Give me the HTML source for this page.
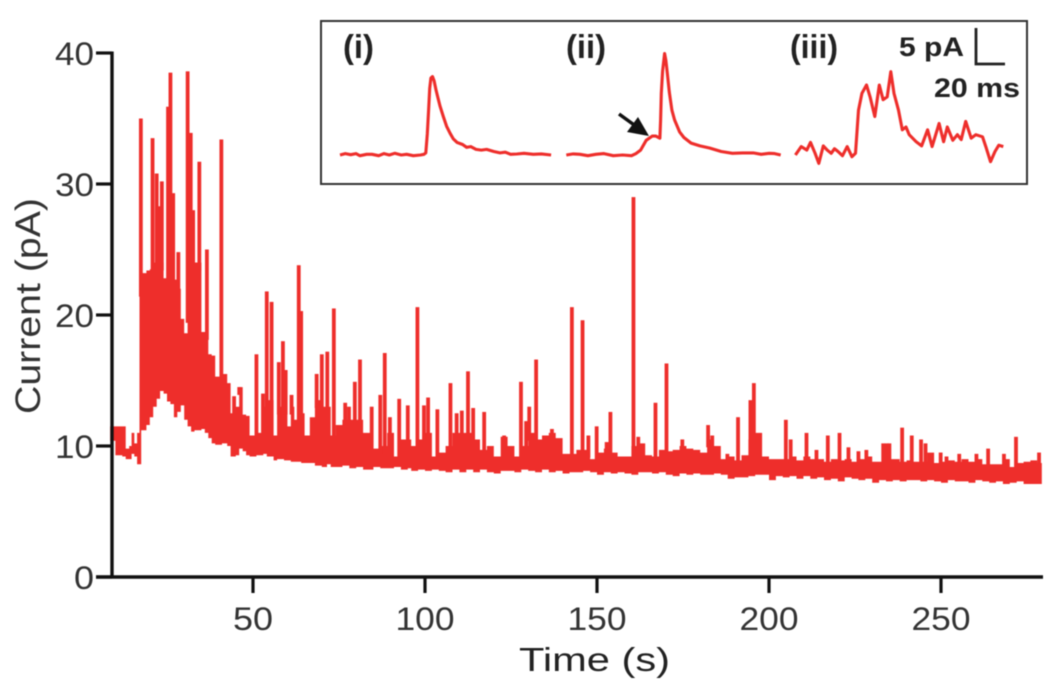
<!DOCTYPE html>
<html>
<head>
<meta charset="utf-8">
<title>Current vs Time</title>
<style>
html,body{margin:0;padding:0;background:#fff;width:1050px;height:695px;overflow:hidden}
svg{display:block;filter:blur(.55px)}
text{font-family:"Liberation Sans",sans-serif}
</style>
</head>
<body>
<svg id="chart" width="1050" height="695" viewBox="0 0 1050 695" xmlns="http://www.w3.org/2000/svg">
  <rect x="0" y="0" width="1050" height="695" fill="#fff"/>
  <g id="trace"></g>
  <g id="axes"></g>
  <text x="519" y="671" font-size="33" fill="#222" textLength="151" lengthAdjust="spacingAndGlyphs">Time (s)</text>
  <text transform="translate(40,414) rotate(-90)" font-size="35" fill="#333" textLength="216" lengthAdjust="spacingAndGlyphs">Current (pA)</text>
  <rect x="321" y="21" width="706" height="163" fill="#fff" stroke="#333" stroke-width="2"/>
  <g id="inset"></g>
  <text x="343" y="58" font-size="33" font-weight="bold" fill="#222" textLength="31" lengthAdjust="spacingAndGlyphs">(i)</text>
  <text x="566" y="58" font-size="33" font-weight="bold" fill="#222" textLength="40" lengthAdjust="spacingAndGlyphs">(ii)</text>
  <text x="790" y="58" font-size="33" font-weight="bold" fill="#222" textLength="48" lengthAdjust="spacingAndGlyphs">(iii)</text>
  <text x="899" y="56" font-size="27" font-weight="bold" fill="#222" textLength="65" lengthAdjust="spacingAndGlyphs">5 pA</text>
  <text x="934" y="97" font-size="27" font-weight="bold" fill="#222" textLength="86" lengthAdjust="spacingAndGlyphs">20 ms</text>
  <path d="M976 28V64H1005" fill="none" stroke="#222" stroke-width="2.8"/>
  <g>
    <path d="M619 114L637 127" stroke="#111" stroke-width="3.5" fill="none"/>
    <path d="M649 136L627 132L638 117Z" fill="#111"/>
  </g>
</svg>
<script>
var xTickValues = [50, 100, 150, 200, 250];
var yTickValues = [0, 10, 20, 30, 40];

var bodyTimes = [8.5,10,12,13,14,14.7,15.5,16.3,17,17.5,19,20,21,22,23,24,25,26,27,28,29,30,31,32,33,34,35,36,37,38,39,41,42.5,43.5,45,46,47,48,49,51,53,54,56,57,59,60,61,62,64,65,66.5,68,70,71.5,72.6,74,76,78,80,82,84,85,87,89,91,93,95,96,98,100,102,104,106,108,110,112,114,116,118,120,122,124,126,128,130,132,134,136,138,140,142,144,146,148,150,152,154,156,158,160,162,164,166,168,170,172,174,176,178,180,182,184,186,188,190,192,194,196,198,200,202,204,206,208,210,212,214,216,218,220,222,224,226,228,230,232,234,236,238,240,242,244,246,248,250,252,254,256,258,260,262,264,266,268,270,272,274,276,278,279.3];
var bodyTop = [11.5,11.5,11.5,9.8,10,11,10.2,11,22,23.2,23.4,23.5,24,24.5,24,22.8,22.7,22.7,22.7,22,19.7,18.6,20,24,24,24,18.7,18.7,17,16.9,15.3,15.5,14.8,12.5,13,14.5,12.4,12.3,10.8,11,13,13.5,10.8,13,13,11.5,13,12,12.5,10.8,12.2,13.5,13,13,10.8,11.6,12,12,12,11,10,9.8,10,11,9.2,10.5,10.5,10,10.5,11,9.2,9.5,10,11,11,11,10.5,9.7,10,9.2,10.7,10,9.2,10,11,10.5,10.8,11,10.6,9.4,9.4,9.7,9.7,9,9.5,9.8,9.5,9.2,9.2,10,10.2,9.3,9.2,9.7,9.6,9.7,10,9.8,9.7,9.5,10.5,10,9,9.2,8.9,9.3,10.5,11,9.2,9,9,9,9.2,8.9,9.2,9,9,8.8,9,8.9,9,8.8,9,9.2,8.8,8.8,9,9,8.8,8.9,8.8,8.8,9.5,8.7,8.8,8.9,8.8,9,8.8,9,8.6,8.6,8.6,9,8.4,8.7,8.8,8.9,8.7,8.7];
var bodyLow = [10.4,9.3,9.2,9,9,9.4,9.2,8.6,8.6,11.2,11.6,12.2,13,13.6,14.2,14,13.4,13.2,12.2,12.6,13.1,12,11.5,11.1,11.2,11.2,11.3,11,10.6,10.2,10.1,10.2,10,9.2,9.3,9.8,9.6,9.3,9.2,9.3,9.4,9.2,8.9,9,8.9,8.9,8.8,8.8,8.7,8.7,8.7,8.5,8.4,8.6,8.4,8.4,8.5,8.3,8.4,8.2,8.2,8.4,8.3,8.3,8.4,8.2,8.3,8.1,8.2,8.1,8.2,8.1,8,8.2,8,8.2,8,8.2,8,7.9,8.1,8.1,8,8.2,8.1,8,8.2,8,8.1,7.9,8,8,8.1,8,7.8,8,7.9,8,7.9,7.8,8,8,7.9,8,7.8,7.7,7.9,7.8,7.9,7.8,7.8,7.9,7.8,7.5,7.6,7.6,7.7,7.8,7.8,7.4,7.7,7.6,7.7,7.5,7.7,7.5,7.6,7.4,7.5,7.3,7.6,7.5,7.4,7.5,7.2,7.4,7.3,7.4,7.3,7.4,7.4,7.3,7.4,7.3,7.2,7.4,7.3,7.3,7.2,7.4,7.3,7.2,7.3,7.1,7.2,7.3,7.1,7.1,7.1,7.1];

var spikeTimes = [17.4,20.8,22,22.8,23.5,25.3,26,26.8,28.3,31,31.9,32.6,33.4,34.4,36.6,40.8,44.5,46,51,52.9,54,55.4,57.5,58.7,59.5,61.2,63.3,64,68.5,70,71.6,73.5,76.8,77.9,79.6,81.1,84.5,87,88.3,89.8,92.5,95,97.8,99.7,100.9,103.6,107.4,109.2,110.7,112.5,114,117.2,123,127.9,129.4,130.3,132.3,134.9,136.9,142.7,145.8,147.5,149.9,152.8,153.9,160.6,162,167,170.2,174.8,182.3,183.5,187.9,191,194.6,195.6,196.9,204.9,206.3,210.9,213.8,217.1,220.5,223.1,226,228.3,233.2,234.2,235,238.7,241.5,244.2,245.5,249.9,251.6,255.3,260.3,263.7,268.3,271.8,278.5];
var spikeValues = [35,33.5,30.8,28.3,30.2,35.9,38.5,29.3,24.8,38.6,33.9,28,24,31.7,25,33.4,13.8,14.5,17,14,21.8,21,16.4,18,15.8,13.9,23.8,20.3,15.5,17,17.2,20.5,13.3,13,14.9,16.6,13,13.9,17.1,12.2,13.6,13.1,20.6,13.1,13.7,12.8,14.8,12.5,12.7,15.7,12.9,12.6,10.8,14.9,11.9,13,16.6,10.8,11.3,20.6,19.6,10.8,11.5,10.3,12.6,29,10.7,13.3,16.3,10.5,11.6,10.8,9.4,12.2,13.5,14.8,10.8,12,10.5,11,9.7,10.8,11,9.9,9.6,9.7,10.2,10.2,10.2,11.4,10.8,10.5,10.2,9.5,9.2,9.4,9.4,9.8,9.4,10.7,9.5];

var insetTimeI = [0,4,8,12,15,20,24,29,33,37,41,46,50,55,60.3,63,64.4,65.5,66.5,67.3,68.2,69.4,70.6,72,73.3,75,77.5,80,82.6,85,87.8,92,95,98.1,102,106,110,115.4,120,124,128,132.6,138,145,151,158.4];
var insetCurrentI = [0,.2,.05,.2,-.1,.1,.1,-.1,.2,0,.25,0,.1,-.1,0,.1,.3,3,6.4,9.5,11,11.2,10.6,9.3,8.3,7,5.5,4.1,3.1,2.3,1.8,1.5,1.1,1.2,.8,.7,.8,.5,.3,.4,.1,.14,.25,.1,.15,0];
var insetTimeII = [169.8,175,180,186,192,198,205,212,218.7,222,225.5,229.7,234.2,237,240,240.5,241,242,243.5,244.5,245.5,247,249,251,254.8,258,263.4,270,277.2,286,294.4,302,310,316,322,326,330.6];
var insetCurrentII = [0,.15,.1,-.1,.1,.2,-.1,0,-.1,.2,.7,2.1,2.7,2.7,2.4,5,8.8,12,14.5,13.5,11.7,9,6.4,5,3.3,2.5,1.7,1.3,1,.5,.24,.3,.3,.1,.25,.2,0];
var insetTimeIII = [341.6,346,350.2,353,356.4,359.2,362.6,365.5,368.5,371,373.6,377,380.5,384,386.7,389,391.5,395,397.7,401.2,404.6,407.4,410.5,413.2,415.6,419,421.8,424.6,427,432.2,436.3,440.8,444.2,449.4,452.8,455.6,459.7,463.2,466,469.4,473.5,477,482,484.5,488,491.4,494.2,497.6];
var insetCurrentIII = [0,1.2,.7,1.8,.24,-1.2,1.3,.7,.24,.9,.5,-.1,1.2,-.24,.24,6.4,8.8,10,8.3,5.5,10,7.9,8.3,11.9,8.8,6.4,3.6,4,2.9,1.9,1.3,3.6,1.2,4.5,1.9,4,2.1,2.9,2.2,4.8,2.4,2.9,2.6,1.2,-.95,.5,1.4,1.2];

var NS = 'http://www.w3.org/2000/svg';
var RED = '#ee2e2b';
function xScale(t) { return 253 + (t - 50) * 3.44; }
function yScale(v) { return 577 - v * 13.1; }
function insetX(ms) { return 340 + ms * 1.333; }
function insetY(pA) { return 155 - pA * 7; }
function bodyTopAt(t) {
  var found = bodyTop[0];
  for (var k = 0; k < bodyTimes.length; k++) {
    if (bodyTimes[k] <= t) found = bodyTop[k];
  }
  return found;
}

function make(tag, parent, attrs) {
  var el = document.createElementNS(NS, tag);
  for (var k in attrs) el.setAttribute(k, attrs[k]);
  parent.appendChild(el);
  return el;
}

var traceGroup = document.getElementById('trace');
var axesGroup = document.getElementById('axes');
var insetGroup = document.getElementById('inset');

var upperPath = '', lowerPath = '';
for (var i = 0; i < bodyTimes.length; i++) {
  var x0 = xScale(bodyTimes[i]).toFixed(1);
  var x1 = xScale(i + 1 < bodyTimes.length ? bodyTimes[i + 1] : bodyTimes[i]).toFixed(1);
  upperPath += (i ? 'L' : 'M') + x0 + ' ' + yScale(bodyTop[i]).toFixed(1) + 'L' + x1 + ' ' + yScale(bodyTop[i]).toFixed(1);
}
for (var j = bodyTimes.length - 1; j >= 0; j--) {
  var xa = xScale(j + 1 < bodyTimes.length ? bodyTimes[j + 1] : bodyTimes[j]).toFixed(1);
  var xb = xScale(bodyTimes[j]).toFixed(1);
  lowerPath += 'L' + xa + ' ' + yScale(bodyLow[j]).toFixed(1) + 'L' + xb + ' ' + yScale(bodyLow[j]).toFixed(1);
}
var bodyEl = make('path', traceGroup, { d: upperPath + lowerPath + 'Z', fill: RED });



spikeTimes.forEach(function (t, idx) {
  var base = yScale(Math.min(bodyTopAt(t), spikeValues[idx]) - 0.6);
  var spike = make('rect', traceGroup, {
    x: xScale(t) - 1.9,
    y: yScale(spikeValues[idx]),
    width: 3.8,
    height: base - yScale(spikeValues[idx]),
    fill: RED
  });
  
  
});

var yAxisLine = make('line', axesGroup, { x1: 112, x2: 112, y1: yScale(40) - 1.5, y2: yScale(0) + 1.5, stroke: '#111', 'stroke-width': 3.4 });


var xAxisLine = make('line', axesGroup, { x1: 96, x2: 1043, y1: yScale(0), y2: yScale(0), stroke: '#111', 'stroke-width': 3.4 });



yTickValues.forEach(function (v) {
  var tick = make('line', axesGroup, { x1: 96, x2: 112, y1: yScale(v), y2: yScale(v), stroke: '#111', 'stroke-width': 3.2 });
  
  
  var width = v === 0 ? 20 : 39;
  var label = make('text', axesGroup, { x: 94 - width, y: yScale(v) + 12, 'font-size': 32, fill: '#333', textLength: width, lengthAdjust: 'spacingAndGlyphs' });
  
  
  label.textContent = String(v);
});

xTickValues.forEach(function (v) {
  var tick = make('line', axesGroup, { x1: xScale(v), x2: xScale(v), y1: yScale(0), y2: yScale(0) + 16, stroke: '#111', 'stroke-width': 3.2 });
  
  
  var width = v < 100 ? 40 : 59;
  var label = make('text', axesGroup, { x: xScale(v) - width / 2, y: 630, 'font-size': 32, fill: '#333', textLength: width, lengthAdjust: 'spacingAndGlyphs' });
  
  
  label.textContent = String(v);
});

function drawInset(times, currents, name) {
  var d = '';
  for (var n = 0; n < times.length; n++) {
    d += (n ? 'L' : 'M') + insetX(times[n]).toFixed(1) + ' ' + insetY(currents[n]).toFixed(1);
  }
  var line = make('path', insetGroup, { d: d, fill: 'none', stroke: RED, 'stroke-width': 3.1, 'stroke-linejoin': 'round' });
  
  
}
drawInset(insetTimeI, insetCurrentI, 'inset-trace-i');
drawInset(insetTimeII, insetCurrentII, 'inset-trace-ii');
drawInset(insetTimeIII, insetCurrentIII, 'inset-trace-iii');
</script>
</body>
</html>
